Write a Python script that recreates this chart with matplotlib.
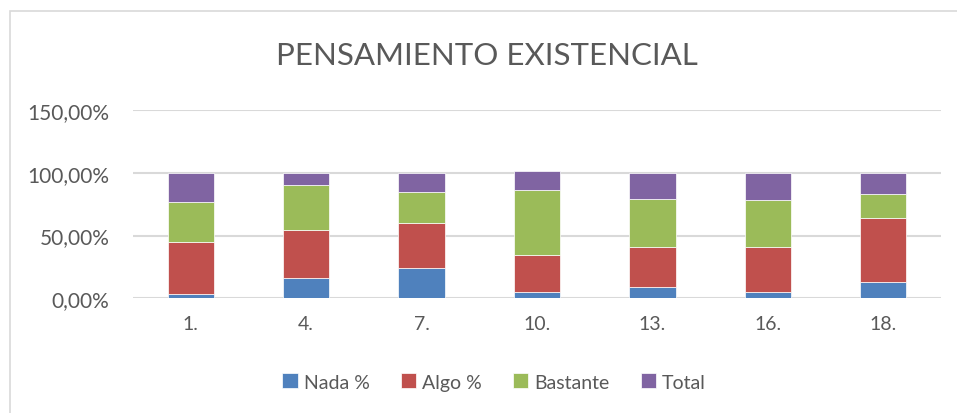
import numpy as np
import matplotlib.pyplot as plt
from matplotlib.patches import Rectangle
from matplotlib.ticker import FuncFormatter

# datos (porcentajes)
categorias = ["1.", "4.", "7.", "10.", "13.", "16.", "18."]
nada = [3.2, 16.5, 23.9, 4.8, 8.8, 4.8, 12.8]
algo = [41.7, 37.8, 36.0, 30.0, 32.4, 36.1, 51.0]
bastante = [32.2, 36.1, 24.9, 51.6, 37.8, 37.8, 18.9]
total = [22.9, 9.6, 15.2, 15.2, 21.0, 21.3, 17.3]

series = [("Nada %", nada, "#4F81BD"),
          ("Algo %", algo, "#C0504D"),
          ("Bastante", bastante, "#9BBB59"),
          ("Total", total, "#8064A2")]

plt.rcParams["font.family"] = ["Lato", "DejaVu Sans"]
gris = "#595959"

fig = plt.figure(figsize=(9.57, 4.14), dpi=100)
# marco del gráfico (sigue fuera del borde derecho e inferior)
fig.patches.append(Rectangle((9.5 / 957, -0.1), 1.1, 1.1 - 12.5 / 414, transform=fig.transFigure,
                             fill=False, edgecolor="#D9D9D9", linewidth=1.2))

ax = fig.add_axes([133 / 957, 1 - 299.3 / 414, 808 / 957, (299.3 - 111) / 414])
x = np.arange(len(categorias))
base = np.zeros(len(categorias))
for nombre, vals, color in series:
    ax.bar(x, vals, width=0.4, bottom=base, color=color, label=nombre,
           edgecolor="white", linewidth=0.5, zorder=3)
    base = base + np.array(vals)

ax.set_xlim(-0.5, len(categorias) - 0.5)
ax.set_ylim(0, 150)
ax.set_yticks([0, 50, 100, 150])
ax.yaxis.set_major_formatter(FuncFormatter(lambda v, p: f"{v:.2f}".replace(".", ",") + "%"))
ax.set_xticks(x)
ax.set_xticklabels(categorias)
ax.grid(axis="y", color="#D9D9D9", linewidth=1.5, zorder=0)
for s in ax.spines.values():
    s.set_visible(False)
ax.tick_params(axis="both", length=0, colors=gris, labelsize=14)
ax.tick_params(axis="y", pad=17, labelsize=15)
ax.tick_params(axis="x", pad=12)

fig.text(487 / 957, 1 - 56 / 414, "PENSAMIENTO EXISTENCIAL", ha="center", va="center",
         fontsize=22.5, color=gris)

fig.legend(loc="center", bbox_to_anchor=(494 / 957, 1 - 383 / 414), ncol=4, frameon=False,
           fontsize=14, labelcolor=gris, handlelength=0.8, handleheight=0.8,
           handletextpad=0.3, columnspacing=1.6)

fig.savefig("out.png", dpi=100)
